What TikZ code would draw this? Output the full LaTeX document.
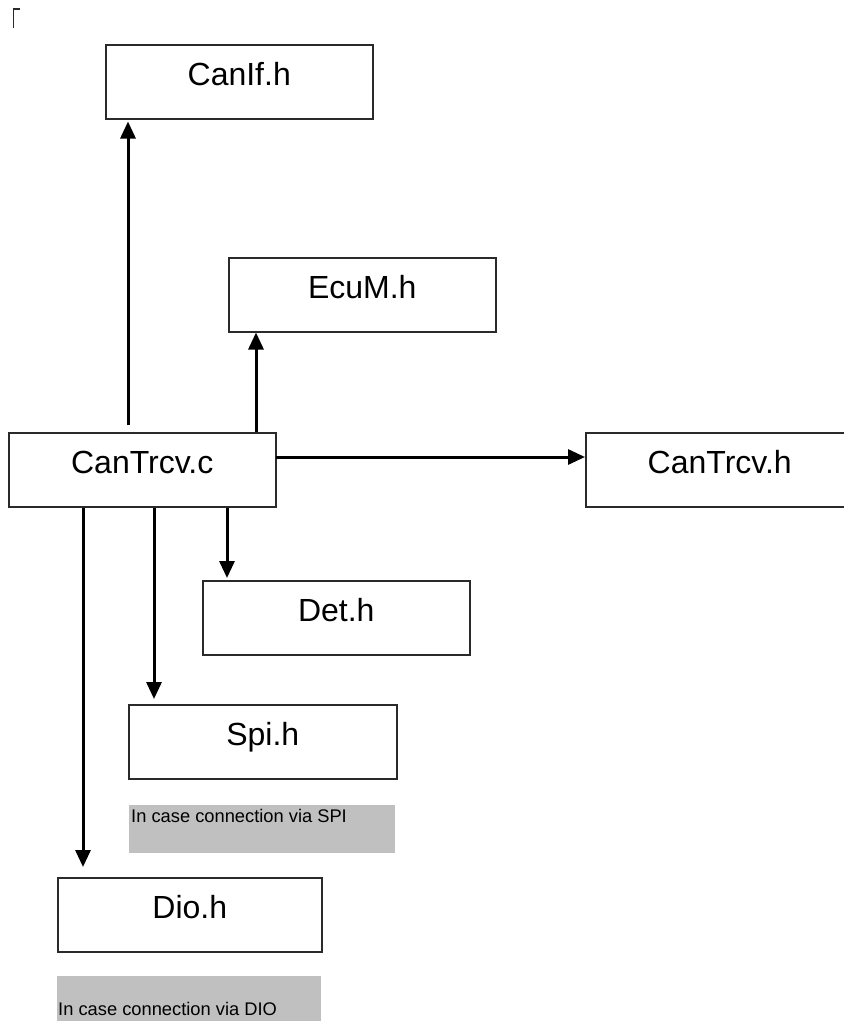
\documentclass[tikz,border=0pt]{standalone}
\usepackage{fontspec}
\setmainfont{Liberation Sans}
\usetikzlibrary{arrows.meta,calc}
\definecolor{notegray}{HTML}{C0C0C0}
\definecolor{edgegray}{HTML}{2A2A2A}
\begin{document}
\begin{tikzpicture}[x=1pt,y=-1pt,
  filebox/.style={draw=edgegray, line width=1.5pt, rectangle, anchor=north west,
    minimum width=267pt, minimum height=74pt, inner sep=0pt,
    text height=23pt, text depth=15pt,
    font=\fontsize{32}{38}\selectfont},
  notebox/.style={fill=notegray, rectangle, anchor=north west, inner sep=0pt},
  notetext/.style={anchor=base west, inner sep=0pt, font=\fontsize{18.3}{22}\selectfont},
  dep/.style={line width=3pt, -{Triangle[width=15pt,length=17pt]}}]
\useasboundingbox (0,0) rectangle (844,1021);
\clip (0,0) rectangle (844,1021);

% small corner mark
\draw[edgegray, line width=1.5pt] (13.5,28) -- (13.5,9) -- (20,9);

% header and source files
\node[filebox] (canif)  at (105,44)  {CanIf.h};
\node[filebox] (ecum)   at (228,257) {EcuM.h};
\node[filebox] (trcvc)  at (8,432)   {CanTrcv.c};
\node[filebox, minimum width=268pt] (trcvh) at (585,432) {CanTrcv.h};
\node[filebox] (det)    at (202,580) {Det.h};
\node[filebox, minimum width=268pt] (spi) at (128,704) {Spi.h};
\node[filebox, minimum width=264pt] (dio) at (57,877) {Dio.h};

% grey remarks
\node[notebox, minimum width=266pt, minimum height=48pt] (spinote) at (129,805) {};
\node[notetext] (spinotetxt) at ($(spinote.north west)+(2,17)$) {In case connection via SPI};
\node[notebox, minimum width=264pt, minimum height=60pt] (dionote) at (57,976) {};
\node[notetext] (dionotetxt) at ($(dionote.north west)+(1,39)$) {In case connection via DIO};

% include dependencies
\coordinate (upstart) at ($(trcvc.north west)+(120,-7)$);
\draw[dep, shorten >=2pt] (upstart) -- (upstart |- canif.south);
\coordinate (ecumstart) at ($(trcvc.north west)+(248,0)$);
\draw[dep] (ecumstart) -- (ecumstart |- ecum.south);
\coordinate (rightstart) at ($(trcvc.north east)+(-1,25)$);
\draw[dep] (rightstart) -- (rightstart -| trcvh.west);
\coordinate (detstart) at ($(trcvc.south west)+(219,0)$);
\draw[dep, shorten >=2pt] (detstart) -- (detstart |- det.north);
\coordinate (spistart) at ($(trcvc.south west)+(146,0)$);
\draw[dep, shorten >=5pt] (spistart) -- (spistart |- spi.north);
\coordinate (diostart) at ($(trcvc.south west)+(75,0)$);
\draw[dep, shorten >=10pt] (diostart) -- (diostart |- dio.north);
\end{tikzpicture}
\end{document}
